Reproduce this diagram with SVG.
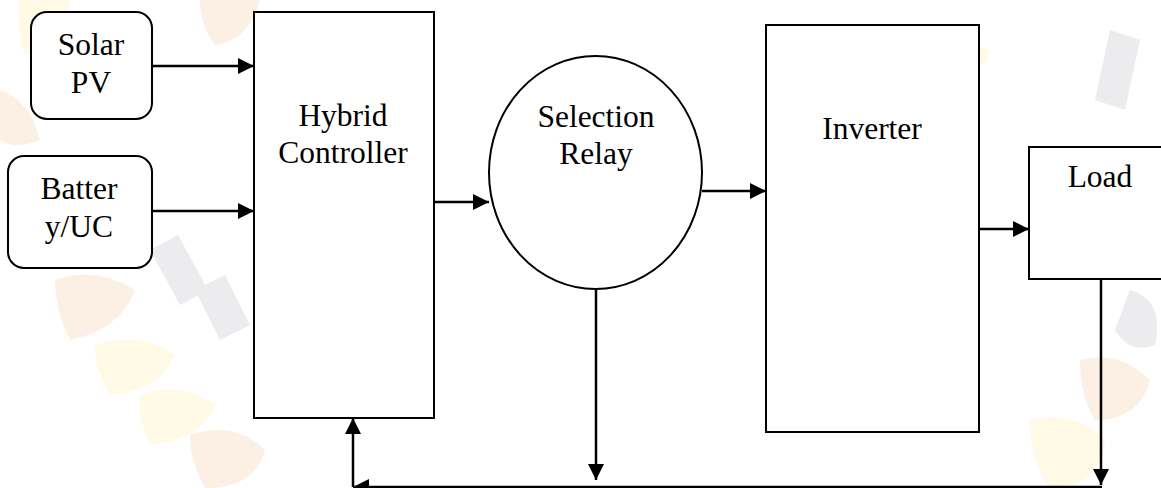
<svg xmlns="http://www.w3.org/2000/svg" width="1161" height="488" viewBox="0 0 1161 488">
  <style>
    .box { fill: #ffffff; stroke: #000000; stroke-width: 2; }
    .lbl { font-family: "Liberation Serif", "Times New Roman", serif; font-size: 31.5px; fill: #000000; text-anchor: middle; }
    .wire { fill: none; stroke: #000000; stroke-width: 2.5; }
    .wm1 { fill: #fbeadb; }
    .wm2 { fill: #fff7de; }
    .wmg { fill: #e6e6e9; }
  </style>
  <defs>
    <marker id="ah" viewBox="0 0 16 16" refX="16" refY="8" markerWidth="16" markerHeight="16" markerUnits="userSpaceOnUse" orient="auto">
      <path d="M0,0 L16,8 L0,16 Z" fill="#000000"/>
    </marker>
  </defs>
  <rect width="1161" height="488" fill="#ffffff"/>

  <g id="watermark" opacity="0.75">
    <path class="wm1" d="M55,280 Q95,265 135,290 Q120,330 70,340 Q55,310 55,280 Z"/>
    <path class="wm2" d="M95,345 Q140,330 175,355 Q160,390 110,395 Q95,370 95,345 Z"/>
    <path class="wm2" d="M140,395 Q180,380 215,405 Q200,440 150,445 Q138,420 140,395 Z"/>
    <path class="wm1" d="M190,435 Q235,420 265,450 Q255,488 205,488 Q190,460 190,435 Z"/>
    <path class="wm1" d="M200,0 L260,0 Q250,40 215,45 Q200,25 200,0 Z"/>
    <path class="wm2" d="M20,0 L70,0 Q60,45 25,55 Q15,25 20,0 Z"/>
    <path class="wm1" d="M0,90 Q30,100 40,140 Q15,150 0,140 Z"/>
    <path class="wm2" d="M800,190 Q860,150 930,170 Q900,230 830,235 Q805,215 800,190 Z"/>
    <path class="wm2" d="M860,60 Q920,30 990,50 Q960,110 890,110 Q865,90 860,60 Z"/>
    <path class="wm1" d="M1080,360 Q1120,350 1150,380 Q1140,420 1095,420 Q1080,395 1080,360 Z"/>
    <path class="wm2" d="M1030,420 Q1075,410 1105,440 Q1100,488 1050,488 Q1030,460 1030,420 Z"/>
    <path class="wmg" d="M150,250 L178,235 L208,290 L180,305 Z"/>
    <path class="wmg" d="M195,290 L225,275 L250,325 L220,340 Z"/>
    <path class="wmg" d="M1110,30 L1140,40 L1125,110 L1095,100 Z"/>
    <path class="wmg" d="M1130,290 Q1165,300 1155,345 Q1130,355 1115,330 Z"/>
  </g>

  <g id="connectors">
    <line class="wire" x1="152" y1="66" x2="254" y2="66" marker-end="url(#ah)"/>
    <line class="wire" x1="152" y1="211" x2="254" y2="211" marker-end="url(#ah)"/>
    <line class="wire" x1="434" y1="202" x2="489" y2="202" marker-end="url(#ah)"/>
    <line class="wire" x1="702" y1="191" x2="766" y2="191" marker-end="url(#ah)"/>
    <line class="wire" x1="979" y1="229" x2="1029" y2="229" marker-end="url(#ah)"/>
    <line class="wire" x1="596" y1="289" x2="596" y2="480" marker-end="url(#ah)"/>
    <line class="wire" x1="1101" y1="279" x2="1101" y2="485" marker-end="url(#ah)"/>
    <line class="wire" x1="1102" y1="487" x2="353" y2="487" marker-end="url(#ah)"/>
    <line class="wire" x1="353" y1="487" x2="353" y2="418" marker-end="url(#ah)"/>
  </g>

  <g id="solar-pv">
    <rect class="box" x="31" y="12" width="121" height="107" rx="16" ry="16"/>
    <text class="lbl" x="91" y="55">Solar</text>
    <text class="lbl" x="91" y="93">PV</text>
  </g>

  <g id="battery-uc">
    <rect class="box" x="8" y="156" width="144" height="112" rx="16" ry="16"/>
    <text class="lbl" x="79" y="199">Batter</text>
    <text class="lbl" x="79" y="237">y/UC</text>
  </g>

  <g id="hybrid-controller">
    <rect class="box" x="254" y="12" width="180" height="406"/>
    <text class="lbl" x="343" y="126">Hybrid</text>
    <text class="lbl" x="343" y="163">Controller</text>
  </g>

  <g id="selection-relay">
    <ellipse class="box" cx="595.5" cy="172.5" rx="106.5" ry="116.5"/>
    <text class="lbl" x="596" y="127">Selection</text>
    <text class="lbl" x="596" y="164">Relay</text>
  </g>

  <g id="inverter">
    <rect class="box" x="766" y="25" width="213" height="407"/>
    <text class="lbl" x="872" y="139">Inverter</text>
  </g>

  <g id="load">
    <rect class="box" x="1029" y="147" width="140" height="132"/>
    <text class="lbl" x="1100" y="187">Load</text>
  </g>
</svg>
